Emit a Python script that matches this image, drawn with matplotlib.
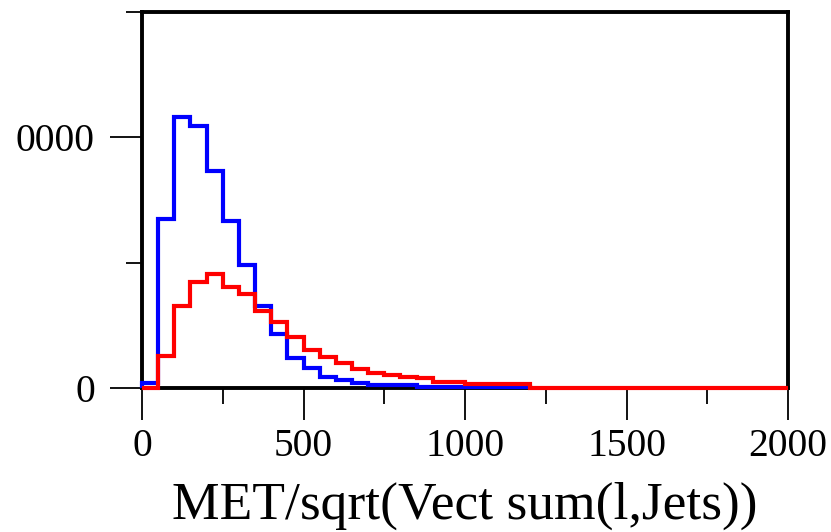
import matplotlib.pyplot as plt
import numpy as np
from matplotlib.ticker import FixedLocator

# bin edges (50 wide)
blue_edges = np.arange(0, 1250, 50)
red_edges = np.arange(0, 2050, 50)

blue_counts = [210, 6750, 10800, 10450, 8660, 6680, 4900, 3280, 2170, 1180,
               785, 450, 300, 187, 120, 110, 100, 35, 30, 30, 30, 25, 25, 25]
red_counts = [0, 1280, 3280, 4220, 4530, 4030, 3730, 3090, 2650, 2050,
              1510, 1220, 1000, 745, 610, 510, 450, 380, 230, 230,
              150, 150, 150, 150, 0, 0, 0, 0, 0, 0,
              0, 0, 0, 0, 0, 0, 0, 0, 0, 0]

x_major = [0, 500, 1000, 1500, 2000]
x_minor = [250, 750, 1250, 1750]
y_major = [0, 10000]
y_minor = [5000, 15000]
# the leading "1" of 10000 is cut off in the source image
y_labels = ['0', '0000']

plt.rcParams['font.family'] = ['Liberation Serif', 'DejaVu Serif']

fig = plt.figure(figsize=(8.31, 5.32), dpi=100)
ax = fig.add_axes([0.1709, 0.2707, 0.7774, 0.7067])

ax.stairs(blue_counts, blue_edges, color='#0000ff', linewidth=3, zorder=3, clip_on=False)
ax.stairs(red_counts, red_edges, color='#ff0000', linewidth=3, zorder=4, clip_on=False)

ax.set_xlim(0, 2000)
ax.set_ylim(0, 15000)

ax.xaxis.set_major_locator(FixedLocator(x_major))
ax.xaxis.set_minor_locator(FixedLocator(x_minor))
ax.yaxis.set_major_locator(FixedLocator(y_major))
ax.yaxis.set_minor_locator(FixedLocator(y_minor))
ax.set_yticklabels(y_labels)

ax.tick_params(which='major', direction='out', length=23, width=1.3, labelsize=28.5, color='black')
ax.tick_params(which='minor', direction='out', length=11.5, width=1.3, color='black')
ax.tick_params(axis='x', which='major', pad=5.5)
ax.tick_params(axis='y', which='major', pad=11)

for s in ax.spines.values():
    s.set_linewidth(2.8)
    s.set_color('black')

ax.set_xlabel('MET/sqrt(Vect sum(l,Jets))', fontsize=38.5)
ax.xaxis.set_label_coords(0.5, -0.25)

fig.savefig('out.png', dpi=100)
